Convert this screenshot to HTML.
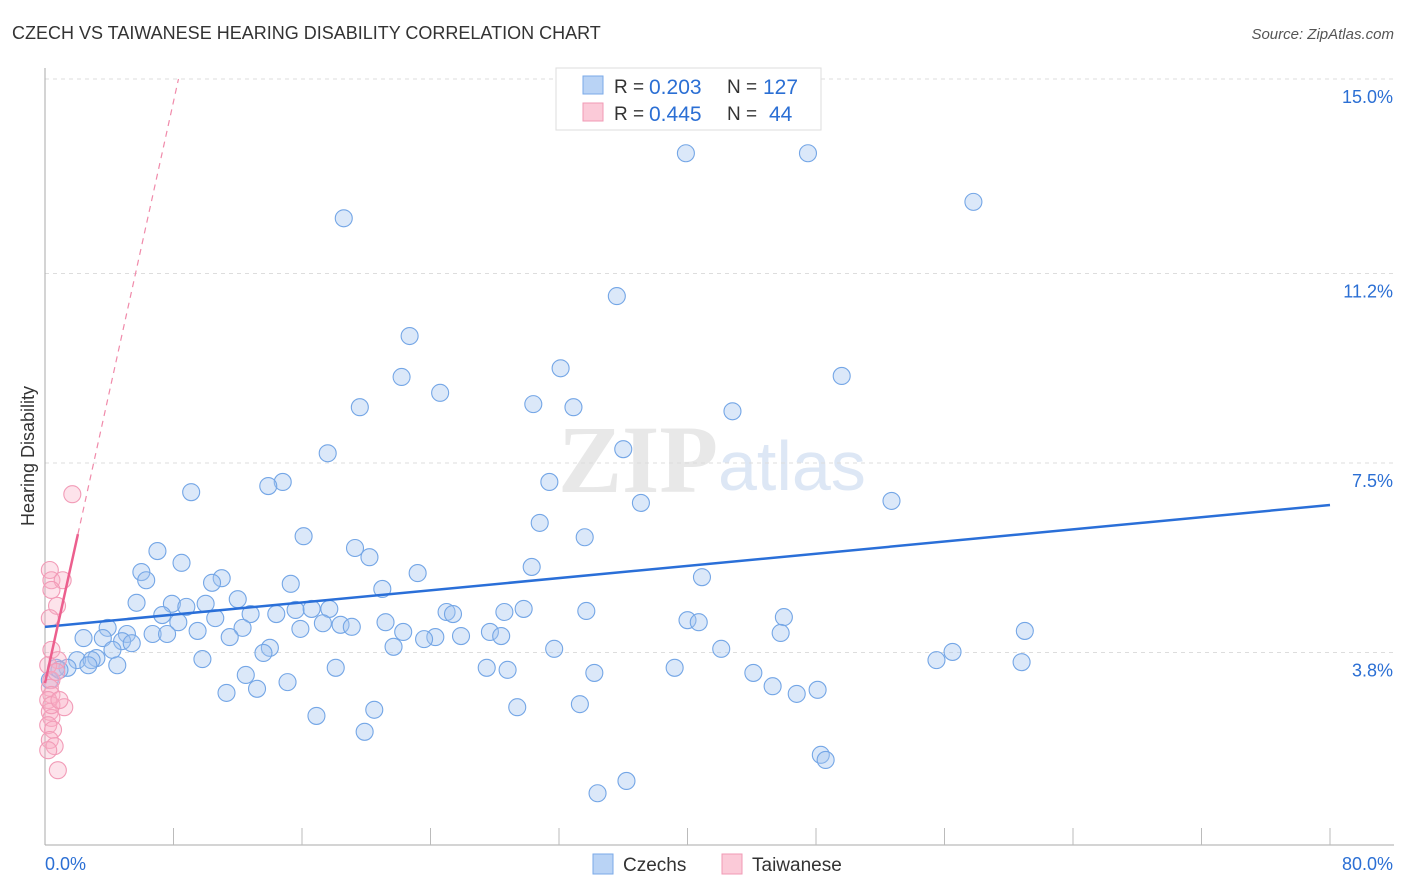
<!DOCTYPE html>
<html><head><meta charset="utf-8"><style>
body{margin:0;background:#fff;font-family:"Liberation Sans",sans-serif;}
svg{display:block}
</style></head><body>
<svg id="chart" width="1406" height="892">
<text x="12" y="39" font-size="18" fill="#333">CZECH VS TAIWANESE HEARING DISABILITY CORRELATION CHART</text>
<text x="1394" y="39" font-size="15" fill="#555" font-style="italic" text-anchor="end">Source: ZipAtlas.com</text>
<text x="558" y="492" font-size="96" fill="#e8e8e8" font-family="Liberation Serif,serif" font-weight="bold">ZIP</text>
<text x="718" y="490" font-size="70" fill="#dde7f5">atlas</text>
<text transform="translate(34,456) rotate(-90)" font-size="18" fill="#333" text-anchor="middle">Hearing Disability</text>
<g id="grid"></g><g id="axes"></g><g id="marks"></g>
<g>
<rect x="556" y="68" width="265" height="62" fill="#fff" stroke="#ddd"/>
<rect x="583" y="76" width="20" height="18" fill="#b9d3f5" stroke="#7aaae8"/>
<rect x="583" y="103" width="20" height="18" fill="#fbcad8" stroke="#f09ab5"/>
<text x="614" y="93" font-size="19" fill="#333">R =</text>
<text x="649" y="94" font-size="21" fill="#2b6fd4">0.203</text>
<text x="727" y="93" font-size="19" fill="#333">N =</text>
<text x="763" y="94" font-size="21" fill="#2b6fd4">127</text>
<text x="614" y="120" font-size="19" fill="#333">R =</text>
<text x="649" y="121" font-size="21" fill="#2b6fd4">0.445</text>
<text x="727" y="120" font-size="19" fill="#333">N =</text>
<text x="769" y="121" font-size="21" fill="#2b6fd4">44</text>
</g>
<g>
<rect x="593" y="854" width="20" height="20" fill="#b9d3f5" stroke="#7aaae8"/>
<text x="623" y="871" font-size="19" fill="#333">Czechs</text>
<rect x="722" y="854" width="20" height="20" fill="#fbcad8" stroke="#f09ab5"/>
<text x="752" y="871" font-size="19" fill="#333">Taiwanese</text>
</g>
</svg>
<script>
const yTicks=[15.0,11.2,7.5,3.8];
const yTickLabels=["15.0%","11.2%","7.5%","3.8%"];
const xTickLabels=["0.0%","80.0%"];
const czechX=[39.9,47.5,57.8,18.6,35.6,22.7,32.1,49.6,22.2,24.6,30.4,32.9,19.6,42.8,36.0,17.6,31.4,14.8,13.9,9.1,37.1,52.7,30.8,16.1,33.6,7.0,19.3,20.2,8.5,30.3,6.0,23.2,40.9,6.3,11.0,10.4,15.3,21.0,12.0,5.7,7.9,10.0,8.8,12.8,14.4,15.6,16.6,17.7,25.0,25.4,28.6,29.8,33.7,46.0,7.3,10.6,8.3,17.3,18.4,19.1,21.2,40.0,40.7,3.9,15.9,12.3,9.5,22.3,61.0,6.7,7.6,5.1,27.7,28.4,45.8,25.9,24.3,23.6,11.5,2.4,3.6,4.8,5.4,21.7,14.0,31.7,4.2,13.6,42.1,56.5,3.2,9.8,55.5,60.8,2.0,2.9,4.5,2.7,18.1,27.5,39.2,1.4,28.8,0.7,0.3,34.2,44.1,12.5,15.1,45.3,48.1,46.8,11.3,13.2,33.3,29.4,20.5,16.9,19.9,48.3,48.6,36.2,34.4,0.9];
const czechY=[13.55,13.55,12.6,12.28,10.76,9.98,9.35,9.2,9.18,8.87,8.65,8.59,8.59,8.51,7.77,7.69,7.13,7.13,7.05,6.93,6.72,6.76,6.33,6.07,6.05,5.78,5.84,5.66,5.55,5.47,5.37,5.35,5.27,5.21,5.25,5.16,5.14,5.04,4.84,4.77,4.75,4.75,4.69,4.55,4.55,4.63,4.65,4.65,4.59,4.55,4.59,4.65,4.61,4.49,4.53,4.47,4.39,4.37,4.34,4.30,4.39,4.43,4.39,4.28,4.26,4.28,4.22,4.2,4.22,4.16,4.16,4.16,4.2,4.12,4.18,4.12,4.1,4.06,4.1,4.08,4.08,4.02,3.98,3.91,3.89,3.87,3.85,3.79,3.87,3.81,3.69,3.67,3.65,3.61,3.65,3.65,3.55,3.55,3.5,3.5,3.5,3.5,3.46,3.5,3.26,3.4,3.4,3.36,3.22,3.14,3.07,2.99,3.01,3.09,2.79,2.73,2.68,2.56,2.25,1.8,1.7,1.29,1.05,3.46];
const taiX=[1.7,0.3,0.4,1.1,0.4,0.75,0.3,0.4,0.8,0.2,0.4,0.3,0.4,0.2,1.2,0.3,0.4,0.2,0.5,0.3,0.6,0.2,0.8,0.4,0.7,0.9];
const taiY=[6.89,5.41,5.21,5.21,5.02,4.71,4.47,3.85,3.65,3.55,3.26,3.11,2.97,2.87,2.73,2.64,2.52,2.38,2.29,2.09,1.97,1.89,1.5,2.77,3.42,2.87];
const czechTrend=[4.30,6.68];
const taiTrend=[3.2,1.42];
const NS="http://www.w3.org/2000/svg";
const X0=45,X1=1330,Y0=847,PY=51.2;
const xs=v=>X0+(v/80)*(X1-X0);
const ys=v=>Y0-v*PY;
function mk(tag,attrs,parent){const e=document.createElementNS(NS,tag);for(const k in attrs)e.setAttribute(k,attrs[k]);document.getElementById(parent).appendChild(e);return e;}
yTicks.forEach((t,i)=>{
 const l=mk('line',{x1:X0,x2:1394,y1:ys(t),y2:ys(t),stroke:'#ddd','stroke-dasharray':'4,4'},'grid');
 
 
 const tx=mk('text',{x:1393,y:ys(t)+24,'font-size':18,fill:'#2b6fd4','text-anchor':'end'},'grid');
 tx.textContent=yTickLabels[i];
 
 
});
const ax=mk('line',{x1:X0,x2:X0,y1:68,y2:845,stroke:'#aaa'},'axes');


const bx=mk('line',{x1:X0,x2:1394,y1:845,y2:845,stroke:'#aaa'},'axes');


for(let v=8;v<=80;v+=8){
 const t=mk('line',{x1:xs(v),x2:xs(v),y1:828,y2:845,stroke:'#bbb'},'axes');
 
 
}
const xl0=mk('text',{x:45,y:870,'font-size':18,fill:'#2b6fd4'},'axes');xl0.textContent=xTickLabels[0];


const xl1=mk('text',{x:1393,y:870,'font-size':18,fill:'#2b6fd4','text-anchor':'end'},'axes');xl1.textContent=xTickLabels[1];


czechX.forEach((x,i)=>{
 const c=mk('circle',{cx:xs(x),cy:ys(czechY[i]),r:8.5,fill:'rgba(160,195,240,0.38)',stroke:'#74a6e6','stroke-width':1.1},'marks');
 
 
});
taiX.forEach((x,i)=>{
 const c=mk('circle',{cx:xs(x),cy:ys(taiY[i]),r:8.5,fill:'rgba(248,175,198,0.35)',stroke:'#f29bb7','stroke-width':1.1},'marks');
 
 
});
const ct=mk('line',{x1:xs(0),y1:ys(czechTrend[0]),x2:xs(80),y2:ys(czechTrend[1]),stroke:'#2a6fd8','stroke-width':2.5},'marks');


const xe=(15-taiTrend[0])/taiTrend[1];
const td=mk('line',{x1:xs(2.05),y1:ys(taiTrend[0]+taiTrend[1]*2.05),x2:xs(xe),y2:ys(15),stroke:'#f08aaa','stroke-width':1.2,'stroke-dasharray':'6,5'},'marks');


const ts=mk('line',{x1:xs(0),y1:ys(taiTrend[0]),x2:xs(2.05),y2:ys(taiTrend[0]+taiTrend[1]*2.05),stroke:'#ec5f8e','stroke-width':2.5},'marks');


</script>
</body></html>
